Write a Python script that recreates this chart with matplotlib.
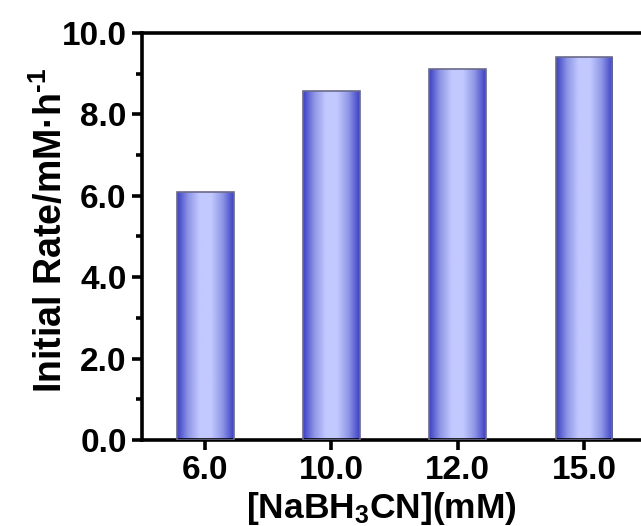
import matplotlib
matplotlib.use('Agg')
import matplotlib.pyplot as plt
import numpy as np
from matplotlib.colors import LinearSegmentedColormap

plt.rc('font', family='Liberation Sans', weight='bold', size=24)
plt.rc('axes', labelweight='bold')
plt.rcParams['mathtext.fontset'] = 'custom'
plt.rcParams['mathtext.rm'] = 'Liberation Sans:bold'
plt.rcParams['mathtext.bf'] = 'Liberation Sans:bold'
plt.rcParams['mathtext.it'] = 'Liberation Sans:bold'
plt.rcParams['mathtext.default'] = 'bf'

categories = ['6.0', '10.0', '12.0', '15.0']
rates = [6.09, 8.57, 9.11, 9.40]

fig = plt.figure(figsize=(6.41, 5.26), dpi=100)
ax = fig.add_axes([0.2215, 0.1635, 0.788, 0.7738])

x = np.arange(len(categories))
width = 0.45
bars = ax.bar(x, rates, width=width, color='none', edgecolor='#6a6a8a',
              linewidth=1.2, zorder=3)

cmap = LinearSegmentedColormap.from_list(
    'grad', ['#3c3fc4', '#8f97e6', '#c2c9ff', '#c2c9ff', '#8f97e6', '#3c3fc4'])
grad = np.linspace(0, 1, 256).reshape(1, -1)
for b in bars:
    x0, y0 = b.get_x(), b.get_y()
    ax.imshow(grad, cmap=cmap, aspect='auto', zorder=2,
              extent=[x0, x0 + b.get_width(), y0, y0 + b.get_height()])

ax.set_xlim(-0.5, 3.5)
ax.set_ylim(0, 10)
ax.set_xticks(x)
ax.set_xticklabels(categories)
ax.set_yticks(np.arange(0, 10.1, 2))
ax.set_yticklabels(['%.1f' % v for v in np.arange(0, 10.1, 2)])
ax.set_yticks(np.arange(1, 10, 2), minor=True)

for s in ax.spines.values():
    s.set_linewidth(2.6)
ax.tick_params(axis='both', which='major', direction='out', length=7, width=2.6, pad=4)
ax.tick_params(axis='y', which='minor', direction='out', length=4, width=2.6)
ax.tick_params(axis='x', which='minor', bottom=False)

ax.set_xlabel(r'[NaBH$_{3}$CN](mM)', fontsize=25.5)
ax.set_ylabel('Initial Rate/mM\u00b7h$^{\\text{-1}}$', fontsize=27)
ax.xaxis.set_label_coords(0.473, -0.122)
ax.yaxis.set_label_coords(-0.142, 0.515)

fig.savefig('out.png', dpi=100)
